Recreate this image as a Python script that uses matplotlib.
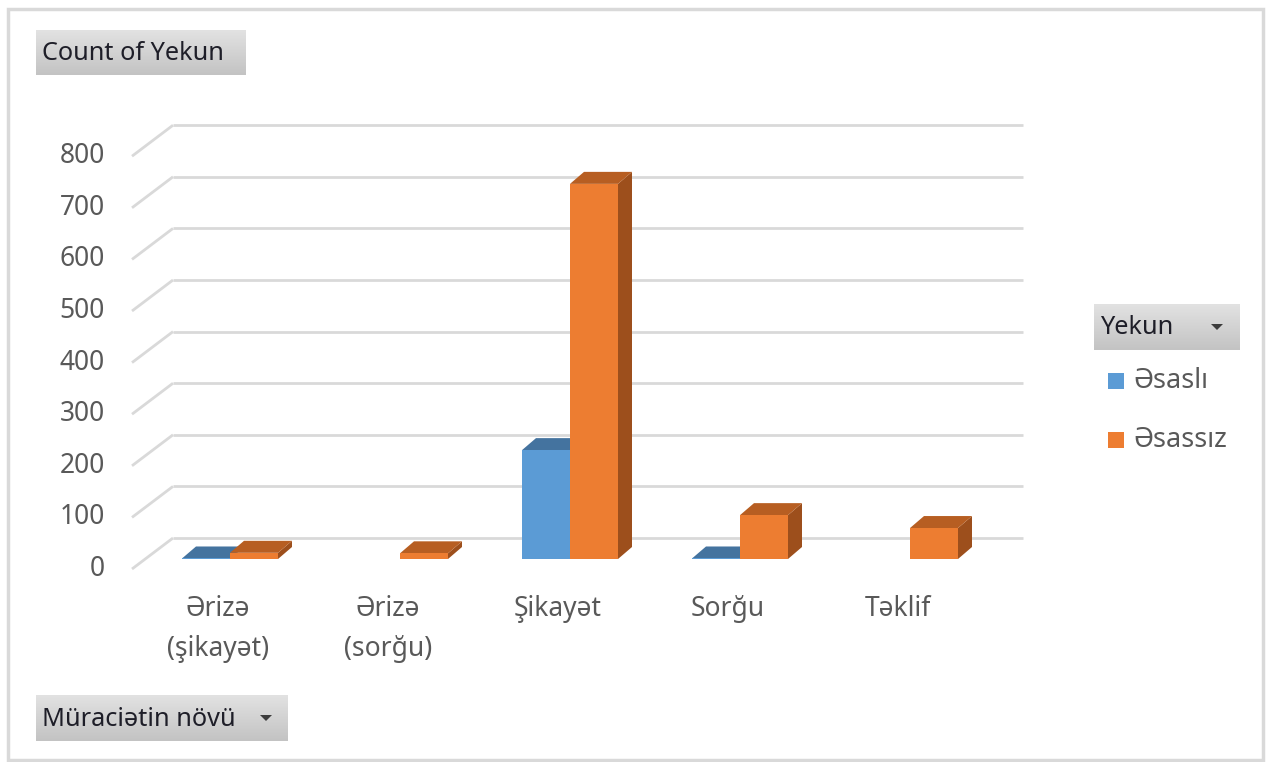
import numpy as np
import matplotlib.pyplot as plt
from matplotlib.patches import Polygon, Rectangle
import matplotlib.colors as mcolors

plt.rcParams['font.family'] = ['Noto Sans', 'DejaVu Sans']

# data
categories = ["Ərizə\n(şikayət)", "Ərizə\n(sorğu)", "Şikayət", "Sorğu", "Təklif"]
series_names = ["Əsaslı", "Əsassız"]
esasli = [1, 0, 211, 1, 0]
esassiz = [12, 11, 727, 85, 60]
y_ticks = [0, 100, 200, 300, 400, 500, 600, 700, 800]

# colours: front, top, side
blue = ("#5b9bd5", "#44739f", "#3a6590")
orange = ("#ed7d31", "#b75e22", "#9d4f1c")
grid_col = "#d9d9d9"
text_col = "#595959"

# pixel layout of the plot (origin top-left)
W, H = 1266, 762
X0, PITCH = 230, 170        # pixel x of first category centre, category pitch
Y0, SCALE = 559, 0.516      # pixel y of value 0 on bar fronts, px per unit


def dx(p):
    return p / PITCH


def dv(p):
    return p / SCALE


fig = plt.figure(figsize=(W / 100, H / 100), dpi=100)
ax = fig.add_axes([0, 0, 1, 1])
ax.set_xlim(-X0 / PITCH, (W - X0) / PITCH)
ax.set_ylim((Y0 - H) / SCALE, Y0 / SCALE)
ax.axis('off')

x = np.arange(len(categories))
bw = dx(48)
ddx, ddv = dx(14), dv(12)

# back wall gridlines + floor diagonals
back_l, back_r = dx(173 - X0), dx(1023 - X0)
front_l = dx(132 - X0)
for v in y_ticks:
    ax.plot([back_l, back_r], [v + dv(21), v + dv(21)], color=grid_col, lw=2, zorder=1,
            solid_capstyle='butt')
    ax.plot([front_l, back_l], [v - dv(10), v + dv(21)], color=grid_col, lw=2, zorder=1,
            solid_capstyle='butt')
    ax.text(dx(105 - X0), v - dv(10), str(v), ha='right', va='center',
            fontsize=19, color=text_col)


def bar3d(left, h, cols, z):
    r = left + bw
    ax.add_patch(Polygon([(r, 0), (r + ddx, ddv), (r + ddx, h + ddv), (r, h)],
                         closed=True, facecolor=cols[2], edgecolor='none', zorder=z))
    ax.add_patch(Polygon([(left, h), (r, h), (r + ddx, h + ddv), (left + ddx, h + ddv)],
                         closed=True, facecolor=cols[1], edgecolor='none', zorder=z))


for i in x:
    if esasli[i] > 0:
        bar3d(i - bw, esasli[i], blue, 2)
    if esassiz[i] > 0:
        bar3d(i, esassiz[i], orange, 4)

b1 = ax.bar(x - bw / 2, esasli, bw, color=blue[0], zorder=3)
b2 = ax.bar(x + bw / 2, esassiz, bw, color=orange[0], zorder=5)

# category labels
for i, lab in enumerate(categories):
    ax.text(i - dx(12), dv(Y0 - 595), lab, ha='center', va='top', fontsize=19,
            color=text_col, linespacing=1.55)

# overlay axes in pixel coordinates for the pivot buttons, legend and border
ov = fig.add_axes([0, 0, 1, 1], zorder=10)
ov.set_xlim(0, W)
ov.set_ylim(H, 0)
ov.axis('off')
ov.patch.set_alpha(0)

grad = np.linspace(0, 1, 64).reshape(-1, 1)
grad_cmap = mcolors.LinearSegmentedColormap.from_list("btn", ["#e2e2e2", "#c3c3c3"])


def button(x0, y0, x1, y1, label, arrow_x=None):
    ov.imshow(grad, cmap=grad_cmap, extent=(x0, x1, y1, y0), aspect='auto',
              interpolation='bilinear', zorder=1)
    ov.text(x0 + 6, (y0 + y1) / 2 + 1, label, ha='left', va='center',
            fontsize=18.2, color="#1e1e28", zorder=2)
    if arrow_x is not None:
        cy = (y0 + y1) / 2
        ov.add_patch(Polygon([(arrow_x - 6, cy - 3), (arrow_x + 6, cy - 3), (arrow_x, cy + 3)],
                             closed=True, facecolor="#3c3c3c", edgecolor='none', zorder=2))


button(36, 30, 246, 75, "Count of Yekun")
button(36, 695, 288, 741, "Müraciətin növü", arrow_x=266)
button(1094, 304, 1240, 350, "Yekun", arrow_x=1217)

# legend entries
for (name, cols), yc in zip(zip(series_names, [blue, orange]), [381, 440]):
    ov.add_patch(Rectangle((1108, yc - 8), 16, 16, facecolor=cols[0], edgecolor='none'))
    ov.text(1133, yc, name, ha='left', va='center', fontsize=19.5, color=text_col)

ov.add_patch(Rectangle((8, 9), 1255, 751, facecolor='none', edgecolor=grid_col, lw=2.5))

ov.set_xlim(0, W)
ov.set_ylim(H, 0)

fig.savefig("out.png", dpi=100)
plt.close(fig)
